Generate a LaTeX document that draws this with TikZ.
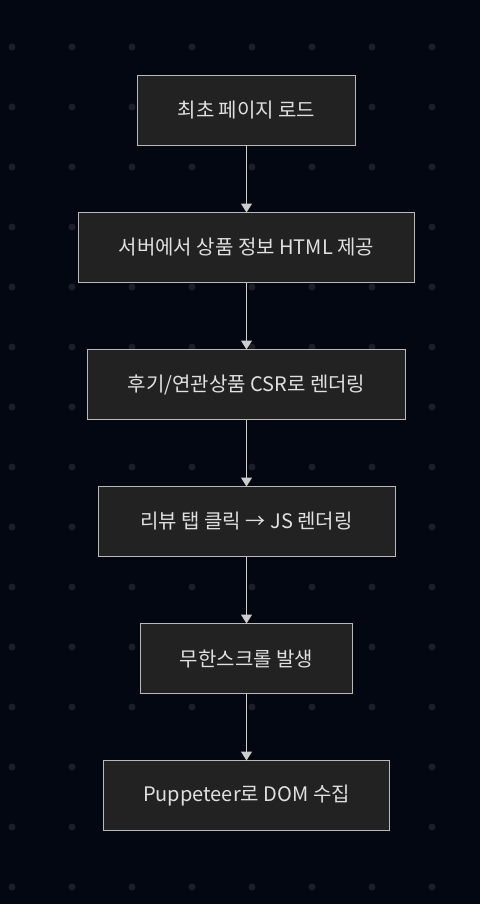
\documentclass[tikz,border=0pt]{standalone}
\usepackage{fontspec}
\setmainfont{Noto Sans CJK KR}
\usetikzlibrary{arrows.meta,positioning}
\definecolor{bgnavy}{RGB}{3,7,18}
\definecolor{bgdot}{RGB}{28,31,40}
\definecolor{boxfill}{RGB}{33,34,33}
\definecolor{boxline}{RGB}{185,185,185}
\definecolor{boxtext}{RGB}{224,224,224}
\definecolor{arrline}{RGB}{205,205,205}
\begin{document}
\begin{tikzpicture}[x=1pt,y=1pt,font=\fontsize{20}{24}\selectfont,node distance=67pt,
      s/.style={draw=boxline,line width=1pt,fill=boxfill,text=boxtext,minimum height=70pt,inner sep=0pt,outer sep=0pt},
      a/.style={-{Triangle[width=11pt,length=9pt]},draw=arrline,fill=arrline,line width=1pt}]
      \fill[bgnavy] (0,0) rectangle (480,-904);
      \useasboundingbox (0,0) rectangle (480,-904);
      \foreach \x in {12,72,...,432} \foreach \y in {47,107,...,887}
        \fill[bgdot] (\x,-\y) circle (3.5pt);
      \node[s,minimum width=218pt] (load) at (246.5,-110.5) {최초 페이지 로드};
      \node[s,minimum width=336pt,below=of load] (ssr) {서버에서 상품 정보 HTML 제공};
      \node[s,minimum width=318pt,below=of ssr] (csr) {후기/연관상품 CSR로 렌더링};
      \node[s,minimum width=297pt,below=of csr] (tab) {리뷰 탭 클릭 → JS 렌더링};
      \node[s,minimum width=212pt,below=of tab] (scroll) {무한스크롤 발생};
      \node[s,minimum width=286pt,below=of scroll] (dom) {Puppeteer로 DOM 수집};
      \draw[a] (load)--(ssr); \draw[a] (ssr)--(csr); \draw[a] (csr)--(tab);
      \draw[a] (tab)--(scroll); \draw[a] (scroll)--(dom);
    \end{tikzpicture}
\end{document}
